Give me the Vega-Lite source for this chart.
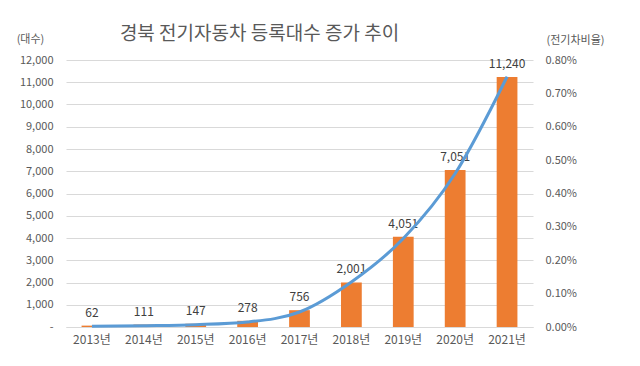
{
  "$schema": "https://vega.github.io/schema/vega-lite/v6.json",
  "width": 467,
  "height": 267,
  "autosize": {"type": "none"},
  "padding": {"left": 66, "top": 60, "right": 107, "bottom": 39},
  "background": "white",
  "config": {"font": "Noto Sans CJK KR", "view": {"stroke": null}},
  "title": {"text": "경북 전기자동차 등록대수 증가 추이", "fontSize": 19, "fontWeight": "normal", "color": "#595959", "dx": -40, "dy": 27, "offset": 16, "font": "Noto Sans CJK KR"},
  "data": {"values": [
    {"year": "2013년", "count": 62, "ratio": 0.00002},
    {"year": "2014년", "count": 111, "ratio": 0.00004},
    {"year": "2015년", "count": 147, "ratio": 0.00007},
    {"year": "2016년", "count": 278, "ratio": 0.00015},
    {"year": "2017년", "count": 756, "ratio": 0.00045},
    {"year": "2018년", "count": 2001, "ratio": 0.00135},
    {"year": "2019년", "count": 4051, "ratio": 0.00265},
    {"year": "2020년", "count": 7051, "ratio": 0.0046},
    {"year": "2021년", "count": 11240, "ratio": 0.0075}
  ]},
  "encoding": {
    "x": {"field": "year", "type": "nominal", "sort": null,
      "scale": {"paddingInner": 0.6, "paddingOuter": 0.3},
      "axis": {"title": null, "labelAngle": 0, "ticks": false, "domainColor": "#d9d9d9", "labelColor": "#595959", "labelFontSize": 12, "labelPadding": 7}}
  },
  "layer": [
    {
      "encoding": {"y": {"field": "count", "type": "quantitative", "scale": {"domain": [0, 12000]},
        "axis": {"title": "(대수)", "titleAngle": 0, "titleX": -36, "titleY": -16, "titleFontWeight": "normal", "titleFontSize": 11, "titleColor": "#595959", "titleAlign": "center",
          "values": [0,1000,2000,3000,4000,5000,6000,7000,8000,9000,10000,11000,12000],
          "labelExpr": "datum.value == 0 ? '-' : format(datum.value, ',')",
          "labelColor": "#595959", "labelFontSize": 11, "labelPadding": 13, "ticks": false, "domain": false, "gridColor": "#d9d9d9"}}},
      "layer": [
        {"mark": {"type": "bar", "color": "#ed7d31"}},
        {"mark": {"type": "text", "baseline": "bottom", "dy": -6, "fontSize": 12, "color": "#404040"},
          "encoding": {"text": {"field": "count", "type": "quantitative", "format": ","}}}
      ]
    },
    {
      "mark": {"type": "line", "color": "#5b9bd5", "strokeWidth": 3, "interpolate": "monotone"},
      "encoding": {"y": {"field": "ratio", "type": "quantitative", "scale": {"domain": [0, 0.008]},
        "axis": {"orient": "right", "title": "(전기차비율)", "titleAngle": 0, "titleX": 42, "titleY": -15, "titleFontWeight": "normal", "titleFontSize": 11, "titleColor": "#595959", "titleAlign": "center",
          "values": [0,0.001,0.002,0.003,0.004,0.005,0.006,0.007,0.008], "format": ".2%",
          "labelColor": "#595959", "labelFontSize": 11, "labelPadding": 12, "ticks": false, "domain": false, "grid": false}}}
    }
  ],
  "resolve": {"scale": {"y": "independent"}}
}
